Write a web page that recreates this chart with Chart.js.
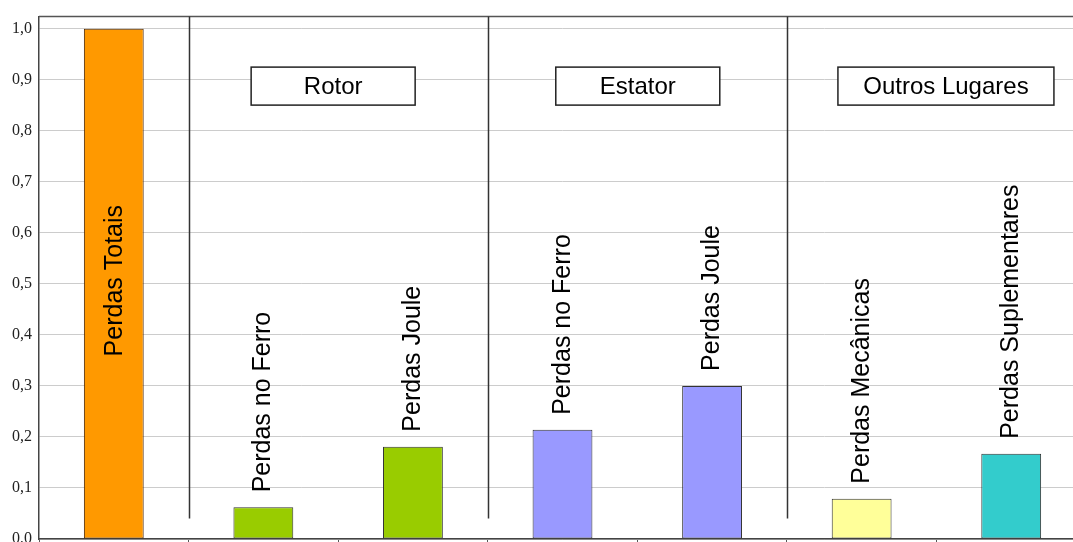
<!DOCTYPE html>
<html>
<head>
<meta charset="utf-8">
<script src="https://cdn.jsdelivr.net/npm/chart.js@4/dist/chart.umd.min.js"></script>
<style>
  html, body { margin: 0; padding: 0; background: #ffffff; overflow: hidden; width: 1073px; height: 542px; }
  canvas { display: block; }
</style>
</head>
<body>
<canvas id="lossChart" width="1100" height="560"></canvas>
<script>
// Loss breakdown of an electric machine (per unit of total losses)
const categories = ['Perdas Totais', 'Perdas no Ferro', 'Perdas Joule', 'Perdas no Ferro', 'Perdas Joule', 'Perdas Mecânicas', 'Perdas Suplementares'];
const lossValues = [1.0, 0.062, 0.181, 0.214, 0.3, 0.079, 0.167];
const barColors = ['#ff9900', '#99cc00', '#99cc00', '#9999ff', '#9999ff', '#ffff99', '#33cccc'];
const barBorders = ['#4a2400', '#333333', '#333333', '#333333', '#333333', '#333333', '#333333'];
const yTicks = [0, 0.1, 0.2, 0.3, 0.4, 0.5, 0.6, 0.7, 0.8, 0.9, 1.0];
const groupNames = ['Rotor', 'Estator', 'Outros Lugares'];
const groupFirst = [1, 3, 5];
const groupLast = [2, 4, 6];

const SANS = '"Liberation Sans", Arial, sans-serif';

// Group separators, group title boxes, rotated category labels, top frame line
const annotations = {
  id: 'annotations',
  afterDatasetsDraw(chart, args, opts) {
    const { ctx, chartArea } = chart;
    const xs = chart.scales.x, ys = chart.scales.y;
    const meta = chart.getDatasetMeta(0);
    ctx.save();

    // top frame line
    ctx.strokeStyle = '#555555';
    ctx.lineWidth = 1.5;
    ctx.beginPath();
    ctx.moveTo(chartArea.left, chartArea.top);
    ctx.lineTo(chartArea.right, chartArea.top);
    ctx.stroke();

    // vertical separators in front of each group
    ctx.strokeStyle = '#333333';
    ctx.lineWidth = 1.5;
    const sepBottom = ys.getPixelForValue(0.04);
    groupFirst.forEach(a => {
      const x = Math.round((xs.getPixelForValue(a - 1) + xs.getPixelForValue(a)) / 2) + 0.5;
      ctx.beginPath();
      ctx.moveTo(x, chartArea.top);
      ctx.lineTo(x, sepBottom);
      ctx.stroke();
    });

    // group title boxes
    ctx.font = '24px ' + SANS;
    ctx.textAlign = 'center';
    ctx.textBaseline = 'middle';
    groupNames.forEach((name, i) => {
      const cx = (xs.getPixelForValue(groupFirst[i]) + xs.getPixelForValue(groupLast[i])) / 2 + opts.boxShift[i];
      const w = opts.boxWidth[i], h = 38;
      const y0 = ys.getPixelForValue(opts.boxTop);
      ctx.fillStyle = '#ffffff';
      ctx.fillRect(cx - w / 2, y0, w, h);
      ctx.strokeStyle = '#222222';
      ctx.lineWidth = 1.5;
      ctx.strokeRect(cx - w / 2, y0, w, h);
      ctx.fillStyle = '#000000';
      ctx.fillText(name, cx, y0 + h / 2 + 1);
    });

    // rotated category labels
    ctx.font = '25px ' + SANS;
    ctx.fillStyle = '#000000';
    ctx.textBaseline = 'alphabetic';
    meta.data.forEach((bar, i) => {
      ctx.save();
      if (i === 0) {
        ctx.translate(bar.x + 8, (bar.y + bar.base) / 2 - 3);
        ctx.rotate(-Math.PI / 2);
        ctx.textAlign = 'center';
      } else {
        ctx.translate(bar.x + 7, bar.y - 15);
        ctx.rotate(-Math.PI / 2);
        ctx.textAlign = 'left';
      }
      ctx.fillText(categories[i], 0, 0);
      ctx.restore();
    });

    ctx.restore();
  }
};

new Chart(document.getElementById('lossChart'), {
  type: 'bar',
  data: {
    labels: categories,
    datasets: [{
      data: lossValues,
      backgroundColor: barColors,
      borderColor: barBorders,
      borderWidth: 1,
      borderSkipped: false,
      categoryPercentage: 1.0,
      barPercentage: 0.4
    }]
  },
  options: {
    responsive: false,
    animation: false,
    devicePixelRatio: 1,
    layout: { padding: { top: 15, right: 14, left: 0, bottom: 0 } },
    plugins: {
      legend: { display: false },
      tooltip: { enabled: false },
      annotations: { boxShift: [-5, 0.5, 9.5], boxWidth: [164, 164, 216], boxTop: 0.925 }
    },
    scales: {
      x: {
        afterFit(scale) { scale.height = 21; },
        ticks: { display: false },
        grid: { display: true, drawOnChartArea: false, drawTicks: true, tickLength: 8, color: '#555555', offset: true },
        border: { display: true, color: '#444444', width: 1.5 }
      },
      y: {
        min: 0,
        max: 1.024,
        afterFit(scale) { scale.width = 39; },
        afterBuildTicks(scale) { scale.ticks = yTicks.map(v => ({ value: v })); },
        ticks: {
          padding: 7,
          color: '#222222',
          font: { family: '"Liberation Serif", "Times New Roman", serif', size: 16 },
          callback: v => Number(v).toFixed(1).replace('.', ',')
        },
        grid: { color: '#cccccc', lineWidth: 1, drawTicks: false },
        border: { display: true, color: '#444444', width: 1.5 }
      }
    }
  },
  plugins: [annotations]
});
</script>
</body>
</html>
